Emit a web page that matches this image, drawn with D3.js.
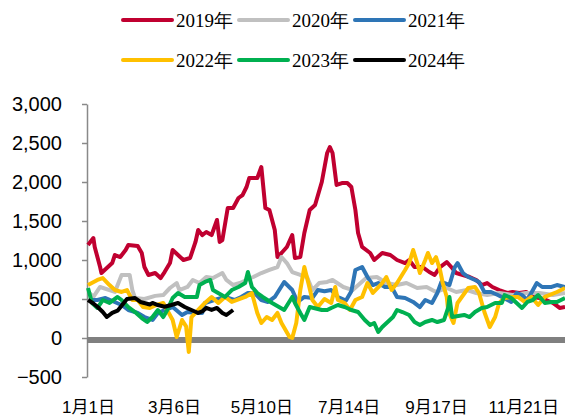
<!DOCTYPE html>
<html>
<head>
<meta charset="utf-8">
<script src="https://cdn.jsdelivr.net/npm/d3@7"></script>
<style>
  body { margin: 0; background: #fff; }
  svg { display: block; }
</style>
</head>
<body>
<svg id="chart" width="565" height="420"></svg>
<script>
// day of year (0 = 1月1日) and value
const s2019 = [[0,1192],[4,1282],[5,1167],[9,910],[10,833],[14,897],[18,961],[20,1064],[24,1038],[28,1128],[30,1192],[37,1179],[40,1090],[42,910],[45,808],[50,833],[54,769],[57,846],[61,961],[63,1128],[67,1064],[71,1000],[76,1026],[80,1231],[82,1385],[85,1320],[88,1359],[92,1320],[96,1513],[98,1231],[100,1256],[104,1667],[108,1667],[112,1795],[115,1833],[118,1936],[120,2051],[126,2051],[129,2192],[132,1667],[135,1641],[139,1385],[141,1038],[144,1090],[148,1167],[152,1320],[154,1026],[158,1038],[161,1346],[165,1641],[169,1705],[174,2000],[178,2372],[180,2449],[182,2372],[185,1962],[189,1987],[193,1987],[196,1936],[199,1641],[201,1346],[204,1167],[210,1090],[213,1000],[219,1090],[225,1064],[230,1000],[236,961],[239,1000],[243,910],[249,910],[254,846],[258,808],[262,910],[267,974],[271,897],[274,833],[279,808],[284,782],[289,744],[293,679],[297,705],[301,654],[306,615],[312,577],[316,590],[321,577],[326,590],[331,526],[336,513],[341,487],[346,449],[351,385],[355,397]];
const s2020 = [[1,577],[4,526],[9,654],[20,590],[25,808],[31,808],[33,615],[35,513],[42,500],[50,540],[56,551],[61,641],[66,705],[68,615],[74,654],[78,744],[83,705],[88,782],[93,769],[100,833],[103,744],[108,679],[113,705],[118,744],[123,782],[129,833],[135,872],[141,910],[144,1038],[148,961],[152,846],[158,808],[163,782],[167,615],[172,705],[178,718],[182,744],[190,654],[197,615],[207,769],[215,782],[222,705],[230,679],[237,705],[245,641],[252,654],[259,590],[267,641],[274,590],[282,615],[289,577],[297,551],[306,577],[316,551],[326,577],[336,577],[346,551],[355,577]];
const s2021 = [[1,487],[7,487],[13,513],[25,423],[30,359],[37,321],[42,269],[48,231],[52,321],[57,359],[63,397],[70,295],[74,333],[80,321],[85,321],[87,449],[94,487],[102,526],[109,487],[114,526],[119,577],[124,577],[129,487],[134,462],[139,526],[146,718],[152,615],[156,462],[161,526],[167,513],[171,615],[176,600],[181,615],[186,526],[192,480],[196,600],[199,872],[204,910],[208,782],[212,679],[216,705],[221,654],[226,654],[230,526],[236,513],[242,462],[247,397],[251,487],[256,449],[260,577],[263,718],[266,700],[269,679],[273,910],[275,961],[279,833],[283,782],[288,744],[291,718],[295,590],[300,590],[305,551],[315,462],[319,577],[323,551],[327,487],[334,705],[338,654],[345,654],[349,679],[355,654]];
const s2022 = [[0,679],[7,744],[11,769],[16,679],[20,615],[25,590],[29,615],[33,487],[37,487],[41,397],[46,385],[51,423],[56,449],[63,231],[66,13],[70,231],[73,150],[75,-179],[77,269],[82,359],[87,449],[92,526],[97,449],[102,526],[107,462],[117,526],[122,577],[126,321],[129,192],[133,269],[137,231],[141,321],[144,192],[150,13],[152,0],[155,192],[158,615],[161,910],[164,705],[167,487],[171,397],[176,500],[181,449],[184,654],[186,487],[191,449],[195,359],[199,487],[204,526],[208,705],[212,577],[219,705],[222,782],[226,615],[230,705],[236,872],[239,961],[242,1128],[245,961],[247,833],[251,1000],[253,1090],[256,961],[259,1038],[262,872],[264,705],[267,526],[268,359],[271,231],[272,192],[275,449],[283,641],[288,654],[291,577],[295,333],[299,141],[303,269],[306,449],[310,513],[315,526],[320,526],[325,462],[330,526],[335,423],[340,526],[349,590],[355,641]];
const s2023 = [[0,641],[3,449],[7,385],[11,487],[16,449],[22,526],[25,487],[30,397],[35,333],[40,256],[44,205],[48,269],[52,359],[56,269],[59,359],[63,513],[67,577],[72,526],[81,526],[83,679],[87,718],[91,744],[93,615],[102,526],[107,615],[112,654],[117,705],[119,846],[122,654],[126,577],[130,526],[137,449],[146,359],[152,526],[154,449],[158,321],[161,231],[165,397],[174,359],[178,359],[181,385],[186,423],[191,397],[196,359],[201,333],[206,231],[210,167],[213,192],[216,77],[219,141],[223,205],[227,269],[230,359],[234,333],[239,295],[243,205],[247,167],[251,205],[256,231],[260,205],[265,231],[268,385],[269,526],[271,269],[280,295],[284,269],[288,333],[293,385],[297,397],[303,449],[308,449],[310,551],[315,513],[323,385],[327,462],[331,487],[335,551],[340,449],[345,462],[349,462],[355,513]];
const s2024 = [[0,487],[4,442],[7,400],[11,333],[14,269],[18,321],[22,350],[29,500],[35,513],[39,462],[46,430],[48,449],[52,423],[57,400],[62,423],[67,449],[72,397],[77,359],[82,321],[85,340],[88,385],[92,360],[96,385],[100,321],[103,295],[108,359]];

const seriesNames = ["2019年", "2020年", "2021年", "2022年", "2023年", "2024年"];
const seriesColors = ["#C00030", "#C0C0C0", "#2E75B6", "#FFC000", "#00B050", "#000000"];
const seriesData = [s2019, s2020, s2021, s2022, s2023, s2024];

const yTicks = [-500, 0, 500, 1000, 1500, 2000, 2500, 3000];
const xTickDays = [0, 64, 129, 194, 259, 324];
const xTickLabels = ["1月1日", "3月6日", "5月10日", "7月14日", "9月17日", "11月21日"];

const svg = d3.select("#chart");

const x = d3.scaleLinear().domain([0, 355]).range([88, 565]);
const y = d3.scaleLinear().domain([-500, 3000]).range([377, 104]);

// y axis
const yAxis = svg.append("g")
  .attr("transform", "translate(87,0)")
  .call(d3.axisLeft(y).tickValues(yTicks).tickFormat(d3.format(",")).tickSize(5).tickSizeOuter(0).tickPadding(20));
yAxis.select(".domain").attr("stroke", "#898989").attr("stroke-width", 1.5);
yAxis.selectAll(".tick line").attr("stroke", "#898989").attr("stroke-width", 1.5);
yAxis.selectAll(".tick text")
  .attr("font-family", "Liberation Sans, Arial, sans-serif")
  .attr("font-size", 20)
  .attr("fill", "#000");

// x labels
const xAxis = svg.append("g")
  .attr("transform", "translate(0,390)")
  .call(d3.axisBottom(x).tickValues(xTickDays).tickFormat((d, i) => xTickLabels[i]).tickSize(0).tickPadding(11));
xAxis.select(".domain").remove();
xAxis.selectAll(".tick text")
  .attr("font-family", "Liberation Sans, Arial, 'Noto Sans CJK SC', sans-serif")
  .attr("font-size", 17)
  .attr("fill", "#000");

// thick zero line
svg.append("line")
  .attr("x1", 87).attr("x2", 565)
  .attr("y1", y(0) + 2).attr("y2", y(0) + 2)
  .attr("stroke", "#808080")
  .attr("stroke-width", 6);

const line = d3.line()
  .x((d) => x(d[0]))
  .y((d) => y(d[1]));

svg.append("g")
  .selectAll("path")
  .data(seriesData)
  .enter()
  .append("path")
  .attr("d", line)
  .attr("fill", "none")
  .attr("stroke", (d, i) => seriesColors[i])
  .attr("stroke-width", 4)
  .attr("stroke-linejoin", "round");

// legend, two rows of three
const legend = svg.append("g")
  .selectAll("g")
  .data(seriesNames)
  .enter()
  .append("g")
  .attr("transform", (d, i) => `translate(${123 + (i % 3) * 116},${20 + Math.floor(i / 3) * 40})`);

legend.append("line")
  .attr("x1", 0).attr("x2", 49)
  .attr("stroke", (d, i) => seriesColors[i])
  .attr("stroke-width", 4)
  .attr("stroke-linecap", "round");

legend.append("text")
  .attr("x", 53)
  .attr("y", 7)
  .attr("font-family", "Liberation Serif, 'Times New Roman', serif")
  .attr("font-size", 19)
  .attr("fill", "#000")
  .text((d) => d);
</script>
</body>
</html>
